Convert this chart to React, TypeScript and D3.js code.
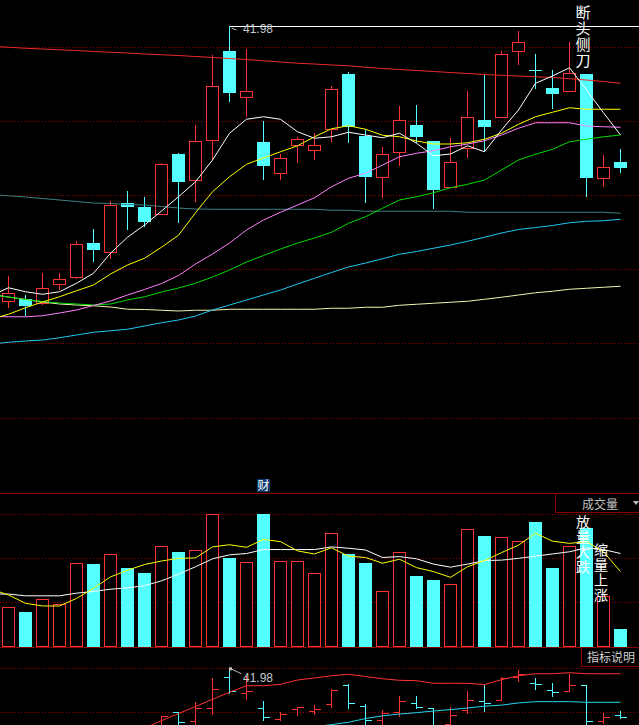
import React, { useEffect } from "react";
import * as d3 from "d3";

const WIDTH = 639;
const HEIGHT = 725;

// 37 trading days on screen, oldest first
const days = d3.range(37);

// daily prices
const opens = [30.99, 31.05, 30.89, 31.67, 31.93, 33.30, 32.95, 34.90, 34.75, 34.45, 36.86, 35.83, 37.41, 40.98, 39.15, 37.34, 36.11, 37.23, 37.03, 37.85, 40.06, 37.58, 35.93, 36.95, 38.01, 37.38, 35.55, 37.11, 38.22, 38.33, 40.99, 40.22, 39.50, 39.39, 40.06, 35.89, 36.54];
const highs = [31.98, 31.22, 32.10, 32.10, 33.38, 33.86, 34.98, 35.38, 35.14, 36.50, 36.90, 38.02, 40.82, 41.98, 41.06, 38.18, 36.86, 37.53, 37.69, 39.58, 40.15, 37.85, 37.15, 38.78, 38.82, 37.38, 37.51, 39.38, 40.02, 40.98, 41.78, 40.86, 40.22, 41.34, 40.06, 36.82, 37.06];
const lows = [30.71, 30.39, 30.82, 31.42, 31.88, 32.55, 32.65, 33.82, 33.95, 34.42, 34.11, 34.95, 36.62, 38.95, 38.35, 35.82, 35.82, 36.49, 36.62, 37.35, 37.31, 34.89, 35.11, 36.39, 37.29, 34.67, 35.55, 36.71, 36.95, 38.33, 40.42, 39.46, 38.67, 39.35, 35.15, 35.55, 36.11];
const closes = [31.29, 30.79, 31.49, 31.85, 33.25, 33.02, 34.83, 34.75, 34.15, 36.46, 35.75, 37.37, 39.57, 39.31, 39.38, 36.39, 36.69, 37.45, 37.21, 39.45, 37.95, 35.95, 36.85, 38.21, 37.55, 35.43, 36.53, 38.33, 37.95, 40.85, 41.33, 40.19, 39.27, 40.09, 35.91, 36.33, 36.31];

// volume, 万手
const volumes = [9.0, 7.8, 10.8, 9.7, 18.9, 18.7, 21.1, 17.8, 16.7, 22.7, 21.4, 21.8, 30.0, 20.1, 19.1, 30.0, 19.5, 19.5, 16.6, 25.7, 21.0, 18.9, 12.5, 21.4, 16.0, 15.1, 14.1, 26.6, 25.1, 24.8, 23.9, 28.2, 17.8, 22.9, 26.9, 11.4, 4.0];

// moving averages; first value is the day before the first bar
const ma5 = [31.20, 31.51, 31.35, 31.25, 31.35, 31.69, 32.09, 32.89, 33.53, 34.02, 34.58, 35.15, 35.75, 36.62, 37.69, 38.25, 38.35, 38.25, 37.75, 37.49, 37.55, 37.73, 37.62, 37.51, 37.69, 37.29, 36.79, 36.86, 37.19, 36.95, 37.82, 38.62, 39.69, 39.98, 40.31, 39.42, 38.51, 37.62];
const ma10 = [30.26, 30.45, 30.71, 30.94, 31.15, 31.39, 31.62, 32.06, 32.42, 32.69, 33.13, 33.61, 34.51, 35.35, 35.95, 36.45, 36.70, 36.95, 37.19, 37.55, 37.87, 37.99, 37.85, 37.61, 37.55, 37.38, 37.26, 37.26, 37.31, 37.45, 37.69, 38.05, 38.35, 38.53, 38.71, 38.65, 38.65, 38.65];
const ma20 = [30.36, 30.35, 30.35, 30.39, 30.50, 30.62, 30.80, 30.98, 31.22, 31.44, 31.68, 32.00, 32.46, 32.86, 33.30, 33.82, 34.22, 34.53, 34.82, 35.11, 35.55, 35.89, 36.09, 36.42, 36.75, 36.89, 36.99, 37.15, 37.26, 37.39, 37.62, 37.89, 38.11, 38.11, 38.11, 37.98, 37.95, 37.93];
const ma30 = [31.22, 31.14, 31.04, 30.96, 30.90, 30.86, 30.82, 30.86, 31.02, 31.15, 31.34, 31.50, 31.69, 31.94, 32.22, 32.54, 32.80, 33.06, 33.30, 33.50, 33.73, 34.09, 34.35, 34.69, 35.02, 35.15, 35.31, 35.51, 35.65, 35.82, 36.22, 36.62, 36.85, 37.05, 37.35, 37.45, 37.55, 37.62];
const ma60 = [29.26, 29.33, 29.38, 29.42, 29.51, 29.62, 29.73, 29.79, 29.85, 29.98, 30.11, 30.22, 30.38, 30.62, 30.82, 31.02, 31.22, 31.42, 31.66, 31.89, 32.12, 32.34, 32.50, 32.67, 32.85, 32.96, 33.09, 33.22, 33.37, 33.53, 33.70, 33.84, 33.92, 34.00, 34.11, 34.17, 34.19, 34.25];
const ma120 = [31.24, 31.14, 31.04, 30.94, 30.86, 30.82, 30.79, 30.74, 30.65, 30.64, 30.61, 30.58, 30.61, 30.61, 30.65, 30.65, 30.65, 30.65, 30.65, 30.65, 30.69, 30.69, 30.73, 30.73, 30.81, 30.85, 30.89, 30.93, 30.97, 31.05, 31.13, 31.22, 31.31, 31.37, 31.45, 31.49, 31.53, 31.57];
const ma250 = [35.23, 35.19, 35.14, 35.08, 35.02, 34.96, 34.90, 34.88, 34.84, 34.82, 34.76, 34.70, 34.66, 34.65, 34.65, 34.65, 34.65, 34.65, 34.65, 34.65, 34.61, 34.61, 34.57, 34.57, 34.57, 34.57, 34.57, 34.57, 34.53, 34.53, 34.53, 34.53, 34.53, 34.53, 34.53, 34.53, 34.53, 34.49];
const maLong = [41.17, 41.13, 41.09, 41.06, 41.03, 41.00, 40.96, 40.93, 40.90, 40.86, 40.83, 40.80, 40.76, 40.72, 40.68, 40.64, 40.59, 40.54, 40.49, 40.46, 40.42, 40.39, 40.33, 40.28, 40.24, 40.20, 40.16, 40.12, 40.08, 40.04, 40.01, 39.98, 39.95, 39.92, 39.87, 39.82, 39.76, 39.69];

const volMa5 = [13.0, 11.7, 9.8, 9.2, 9.2, 10.9, 13.2, 15.8, 17.3, 18.6, 19.4, 20.0, 20.1, 22.6, 23.1, 22.5, 24.3, 23.8, 21.7, 21.0, 22.4, 20.5, 20.2, 18.9, 19.8, 17.9, 17.0, 15.7, 18.1, 19.5, 21.3, 23.0, 25.7, 23.9, 23.4, 23.8, 21.5, 17.0];
const volMa10 = [11.9, 11.9, 11.5, 11.5, 11.5, 12.1, 12.5, 13.0, 13.3, 13.8, 14.9, 16.4, 18.1, 19.9, 20.8, 21.1, 22.0, 22.0, 22.0, 22.0, 22.6, 22.3, 21.9, 20.2, 20.4, 19.9, 18.7, 18.0, 18.7, 19.5, 19.6, 20.0, 20.5, 21.0, 21.5, 22.4, 22.0, 21.1];

// lower overview pane lines, null where they run off the pane
const lowerRed = [null, null, null, null, null, null, null, 34.25, 35.06, 35.90, 36.73, 37.55, 38.39, 39.21, 39.96, 39.96, 40.12, 40.62, 40.86, 41.12, 41.28, 41.03, 40.77, 40.59, 40.54, 40.24, 40.24, 40.24, 40.10, 40.66, 41.12, 41.35, 41.35, 41.47, 41.35, 41.35, 41.35];
const lowerCyan = [null, null, null, null, null, null, null, null, null, null, null, null, null, null, null, null, null, null, 35.17, 35.46, 35.72, 36.16, 36.47, 36.68, 36.84, 37.03, 37.19, 37.38, 37.59, 37.71, 37.97, 38.11, 38.11, 38.11, 38.04, 38.04, 38.04];

// dotted grid levels
const priceGrid = [41.13, 38.17, 35.21, 32.25, 29.29, 26.29];
const volGrid = [10, 20, 30];
const lowerGrid = [41.98, 36.88];

const RED = "#ff3232";
const CYAN = "#54ffff";
const GRID = "#9a0000";
const FRAME = "#8b0000";
const CJK = "'Noto Sans CJK SC', 'Noto Sans', sans-serif";
const LATIN = "'Liberation Sans', Arial, sans-serif";

const px = (v: number) => Math.round(v) + 0.5;

// one upright column of characters, top of first glyph at y
const VerticalText = ({ text, x, y, size, gap }: { text: string; x: number; y: number; size: number; gap: number }) => (
  <text
    x={x}
    y={y}
    fill="#ffffff"
    fontFamily={CJK}
    fontSize={size}
    letterSpacing={gap}
    style={{ writingMode: "vertical-rl" }}
  >
    {text}
  </text>
);

export default function App() {
  useEffect(() => {
    document.body.style.margin = "0";
    document.body.style.background = "#000";
  }, []);

  const x = d3.scaleLinear().domain([-0.5, 36.5]).range([0, 629]);
  const yPrice = d3.scaleLinear().domain([43.02, 23.3]).range([0, 493]);
  const yVol = d3.scaleLinear().domain([0, 30]).range([646.5, 514.3]);
  const yLow = d3.scaleLinear().domain([41.98, 36.88]).range([668.3, 712.3]);

  const leadLine = (y: d3.ScaleLinear<number, number>) =>
    d3.line<number>().x((_, i) => x(i - 1)).y((v) => y(v));
  const gapLine = (y: d3.ScaleLinear<number, number>) =>
    d3.line<number | null>().defined((v) => v != null).x((_, i) => x(i)).y((v) => y(v as number));

  const priceLines = [
    { data: maLong, color: "#ee2a2a" },
    { data: ma250, color: "#3f7f7f" },
    { data: ma120, color: "#f4f4b0" },
    { data: ma60, color: "#20c8f0" },
    { data: ma30, color: "#00dd00" },
    { data: ma20, color: "#ff80ff" },
    { data: ma10, color: "#ffff00" },
    { data: ma5, color: "#ffffff" },
  ];

  const peak = d3.maxIndex(highs);
  const peakX = x(peak);
  const peakY = yPrice(highs[peak]);
  const peakYLow = yLow(highs[peak]);

  return (
    <svg
      width={WIDTH}
      height={HEIGHT}
      style={{ position: "absolute", left: 0, top: 0, display: "block", background: "#000" }}
    >
      <rect width={WIDTH} height={HEIGHT} fill="#000" />

      {/* grids */}
      {priceGrid.map((p) => (
        <line key={"pg" + p} x1={0} x2={WIDTH} y1={px(yPrice(p))} y2={px(yPrice(p))} stroke={GRID} strokeDasharray="1 2" />
      ))}
      {volGrid.map((v) => (
        <line key={"vg" + v} x1={0} x2={WIDTH} y1={px(yVol(v))} y2={px(yVol(v))} stroke={GRID} strokeDasharray="1 2" />
      ))}
      {lowerGrid.map((p) => (
        <line key={"lg" + p} x1={0} x2={WIDTH} y1={px(yLow(p))} y2={px(yLow(p))} stroke={GRID} strokeDasharray="1 2" />
      ))}

      {/* candles */}
      {days.map((d) => {
        const c = x(d);
        const up = closes[d] >= opens[d];
        const top = Math.round(yPrice(Math.max(opens[d], closes[d])));
        const bot = Math.round(yPrice(Math.min(opens[d], closes[d])));
        const hi = Math.round(yPrice(highs[d]));
        const lo = Math.round(yPrice(lows[d]));
        if (up) {
          return (
            <g key={"c" + d} stroke={RED} fill="#000" shapeRendering="crispEdges">
              {hi < top && <line x1={c} x2={c} y1={hi} y2={top} />}
              {lo > bot && <line x1={c} x2={c} y1={bot + 1} y2={lo} />}
              <rect x={c - 6} y={top + 0.5} width={12} height={Math.max(bot - top, 1)} />
            </g>
          );
        }
        return (
          <g key={"c" + d} shapeRendering="crispEdges">
            <line x1={c} x2={c} y1={hi} y2={lo} stroke={CYAN} />
            <rect x={c - 6.5} y={top} width={13} height={Math.max(bot - top, 1)} fill={CYAN} />
          </g>
        );
      })}

      {/* price moving averages */}
      {priceLines.map((l, i) => (
        <path key={"ma" + i} d={leadLine(yPrice)(l.data) ?? ""} fill="none" stroke={l.color} strokeWidth={1} />
      ))}

      {/* peak marker */}
      <line x1={peakX} x2={WIDTH} y1={px(peakY)} y2={px(peakY)} stroke="#ffffff" shapeRendering="crispEdges" />
      <path d={`M${peakX + 2},${peakY + 2} l5,2`} stroke="#c0c0c0" fill="none" />
      <text x={peakX + 13.5} y={peakY + 6.5} fill="#c0c8d0" fontFamily={LATIN} fontSize={12}>
        {highs[peak].toFixed(2)}
      </text>

      <VerticalText text="断头侧刀" x={583} y={5} size={15} gap={1} />

      {/* 财 badge */}
      <rect x={257} y={479} width={13} height={13} fill="#0b3a6e" />
      <text x={263.5} y={490} fill="#ffffff" fontFamily={CJK} fontSize={12} textAnchor="middle">财</text>

      {/* pane frames */}
      <line x1={0} x2={WIDTH} y1={493.5} y2={493.5} stroke={FRAME} />

      {/* volume bars */}
      {days.map((d) => {
        const c = x(d);
        const top = Math.round(yVol(volumes[d]));
        return closes[d] >= opens[d] ? (
          <rect key={"v" + d} x={c - 6} y={top + 0.5} width={12} height={646 - top} fill="#000" stroke={RED} shapeRendering="crispEdges" />
        ) : (
          <rect key={"v" + d} x={c - 6.5} y={top} width={13} height={647 - top} fill={CYAN} shapeRendering="crispEdges" />
        );
      })}
      <path d={leadLine(yVol)(volMa10) ?? ""} fill="none" stroke="#ffffff" />
      <path d={leadLine(yVol)(volMa5) ?? ""} fill="none" stroke="#ffff00" />

      <VerticalText text="放量大跌" x={583} y={515} size={14} gap={1} />
      <VerticalText text="缩量上涨" x={601} y={543} size={14} gap={1} />

      <rect x={555.5} y={493.5} width={84} height={19} fill="#000" stroke={FRAME} />
      <text x={600} y={508.5} fill="#c0c0c0" fontFamily={CJK} fontSize={12} textAnchor="middle">成交量</text>
      <path d="M633,501 L639,501 L636,505 Z" fill="#c0c0c0" />

      <line x1={0} x2={WIDTH} y1={647.5} y2={647.5} stroke={FRAME} />

      {/* lower overview pane */}
      {days.map((d) => {
        const c = x(d);
        const color = closes[d] >= opens[d] ? RED : CYAN;
        return (
          <g key={"o" + d} stroke={color} shapeRendering="crispEdges">
            <line x1={c} x2={c} y1={Math.round(yLow(highs[d]))} y2={Math.round(yLow(lows[d]))} />
            <line x1={c - 6} x2={c} y1={px(yLow(opens[d]))} y2={px(yLow(opens[d]))} />
            <line x1={c} x2={c + 6} y1={px(yLow(closes[d]))} y2={px(yLow(closes[d]))} />
          </g>
        );
      })}
      <path d={gapLine(yLow)(lowerRed) ?? ""} fill="none" stroke={RED} />
      <path d={gapLine(yLow)(lowerCyan) ?? ""} fill="none" stroke="#20d8f0" />

      <rect x={peakX - 0.5} y={peakYLow - 1} width={3} height={3} fill="#c0c0c0" />
      <path d={`M${peakX + 2.5},${peakYLow + 1} L${peakX + 12},${peakYLow + 5.5}`} stroke="#c0c0c0" fill="none" />
      <text x={peakX + 13.5} y={peakYLow + 13.5} fill="#c0c8d0" fontFamily={LATIN} fontSize={12}>
        {highs[peak].toFixed(2)}
      </text>

      <rect x={581.5} y={647.5} width={58} height={19} fill="#000" stroke={FRAME} />
      <text x={611} y={662} fill="#d0d0d0" fontFamily={CJK} fontSize={12} textAnchor="middle">指标说明</text>
    </svg>
  );
}
